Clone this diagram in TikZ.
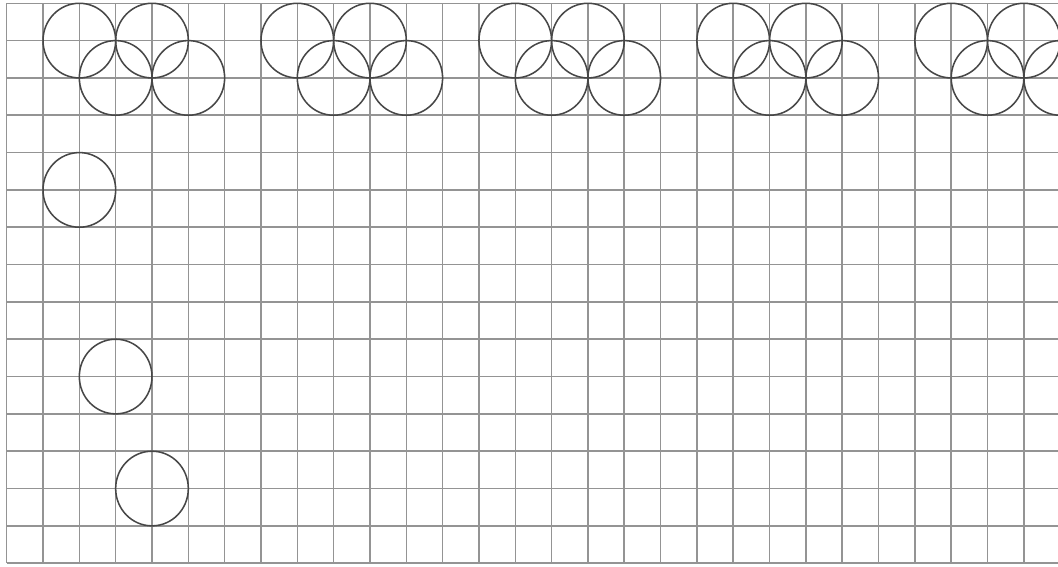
\documentclass[tikz,border=0pt]{standalone}
\begin{document}
\begin{tikzpicture}[xscale=1,yscale=-1.0275]
		% Khung và lưới ô vuông
		\useasboundingbox (-0.184,-0.088) rectangle (28.94,15.10);
		\fill[white] (-0.184,-0.088) rectangle (28.94,15.10);
		\clip (-0.184,-0.088) rectangle (28.94,15.10);
		\draw[line width=1.2pt,black!42] (0,0) grid (29,15);
		% Các nhóm bốn hình tròn
		\foreach \a in {2,8,14,20,26}{
			\draw[line width=1.2pt,black!72] (\a,1) circle (1);
			\draw[line width=1.2pt,black!72] (\a+2,1) circle (1);
			\draw[line width=1.2pt,black!72] (\a+1,2) circle (1);
			\draw[line width=1.2pt,black!72] (\a+3,2) circle (1);
		}
		% Các hình tròn đơn
		\draw[line width=1.2pt,black!72] (2,5) circle (1);
		\draw[line width=1.2pt,black!72] (3,10) circle (1);
		\draw[line width=1.2pt,black!72] (4,13) circle (1);
	\end{tikzpicture}
\end{document}
